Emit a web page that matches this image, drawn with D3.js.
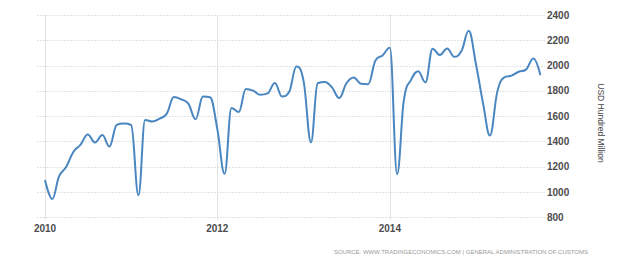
<!DOCTYPE html>
<html><head><meta charset="utf-8">
<script src="https://cdn.jsdelivr.net/npm/d3@7"></script>
<style>
html,body{margin:0;padding:0;background:#fff;}
svg{display:block;}
</style></head>
<body>
<svg id="chart" width="625" height="265"></svg>
<script>
// Monthly values, Jan 2010 .. Oct 2015 (USD Hundred Million)
const startYear = 2010;
const values = [
  1095, 945, 1121, 1199, 1317, 1375, 1455, 1392, 1450, 1360, 1531, 1541,
  1530, 974, 1570, 1557, 1580, 1620, 1751, 1733, 1697, 1575, 1755, 1750,
  1499, 1144, 1665, 1633, 1815, 1802, 1769, 1780, 1863, 1755, 1794, 1992,
  1873, 1393, 1860, 1871, 1827, 1743, 1860, 1906, 1856, 1853, 2040, 2080,
  2140, 1141, 1720, 1887, 1955, 1868, 2133, 2084, 2136, 2069, 2117, 2275,
  2010, 1690, 1446, 1790, 1907, 1921, 1951, 1968, 2056, 1924
];
const yTicks = [800, 1000, 1200, 1400, 1600, 1800, 2000, 2200, 2400];
const xTickYears = [2010, 2012, 2014];
const yTitle = "USD Hundred Million";
const sourceText = "SOURCE: WWW.TRADINGECONOMICS.COM | GENERAL ADMINISTRATION OF CUSTOMS";

(function () {
const data = values.map((v, i) => ({ date: new Date(startYear, i, 1), value: v }));

const svg = d3.select("#chart");
const pLeft = 37, pRight = 545, pTop = 15, pBottom = 217.3;

const x = d3.scaleTime()
  .domain([new Date(2010, 0, 1), new Date(2012, 0, 1)])
  .range([45, 217.3]);
const y = d3.scaleLinear().domain([800, 2400]).range([pBottom, pTop]);

// Highcharts-like spline curve
function HCSpline(context) { this._context = context; }
HCSpline.prototype = {
  areaStart() {}, areaEnd() {},
  lineStart() { this._pts = []; },
  point(px, py) { this._pts.push([+px, +py]); },
  lineEnd() {
    const p = this._pts, ctx = this._context, n = p.length;
    if (!n) return;
    const sm = 1.5, den = sm + 1;
    const L = [], R = [];
    for (let i = 0; i < n; i++) {
      const [cx, cy] = p[i];
      if (i === 0 || i === n - 1) { L[i] = [cx, cy]; R[i] = [cx, cy]; continue; }
      const [lx, ly] = p[i - 1], [nx, ny] = p[i + 1];
      let lcx = (sm * cx + lx) / den, lcy = (sm * cy + ly) / den;
      let rcx = (sm * cx + nx) / den, rcy = (sm * cy + ny) / den;
      const corr = ((rcy - lcy) * (rcx - cx)) / (rcx - lcx) + cy - rcy;
      lcy += corr; rcy += corr;
      if (lcy > ly && lcy > cy) { lcy = Math.max(ly, cy); rcy = 2 * cy - lcy; }
      else if (lcy < ly && lcy < cy) { lcy = Math.min(ly, cy); rcy = 2 * cy - lcy; }
      if (rcy > ny && rcy > cy) { rcy = Math.max(ny, cy); lcy = 2 * cy - rcy; }
      else if (rcy < ny && rcy < cy) { rcy = Math.min(ny, cy); lcy = 2 * cy - rcy; }
      L[i] = [lcx, lcy]; R[i] = [rcx, rcy];
    }
    ctx.moveTo(p[0][0], p[0][1]);
    for (let i = 1; i < n; i++) {
      ctx.bezierCurveTo(R[i - 1][0], R[i - 1][1], L[i][0], L[i][1], p[i][0], p[i][1]);
    }
  }
};
const curveHC = ctx => new HCSpline(ctx);

// horizontal grid
svg.append("g").selectAll("line").data(yTicks).join("line")
  .attr("x1", pLeft).attr("x2", pRight)
  .attr("y1", d => Math.round(y(d)) + 0.5).attr("y2", d => Math.round(y(d)) + 0.5)
  .attr("stroke", "#e3e3e3").attr("stroke-width", 1).attr("stroke-dasharray", "2,1");

// vertical grid
svg.append("g").selectAll("line").data(xTickYears).join("line")
  .attr("x1", d => Math.round(x(new Date(d, 0, 1))) + 0.5)
  .attr("x2", d => Math.round(x(new Date(d, 0, 1))) + 0.5)
  .attr("y1", pTop).attr("y2", pBottom + 3)
  .attr("stroke", "#e3e3e3").attr("stroke-width", 1);

// line
svg.append("path").datum(data)
  .attr("fill", "none")
  .attr("stroke", "#4a86c0")
  .attr("stroke-width", 2)
  .attr("stroke-linejoin", "round")
  .attr("d", d3.line().x(d => x(d.date)).y(d => y(d.value)).curve(curveHC));

// y labels
svg.append("g").selectAll("text").data(yTicks).join("text")
  .attr("x", 547).attr("y", d => y(d) + 3.5)
  .attr("font-family", "Liberation Sans, Arial, sans-serif")
  .attr("font-size", 10).attr("font-weight", "bold")
  .attr("fill", "#4d4d4d")
  .text(d => d);

// x labels
svg.append("g").selectAll("text").data(xTickYears).join("text")
  .attr("x", d => x(new Date(d, 0, 1)))
  .attr("y", 232)
  .attr("text-anchor", "middle")
  .attr("font-family", "Liberation Sans, Arial, sans-serif")
  .attr("font-size", 10).attr("font-weight", "bold")
  .attr("fill", "#4d4d4d")
  .text(d => d);

// y axis title
svg.append("text")
  .attr("transform", "translate(598,123) rotate(90)")
  .attr("text-anchor", "middle")
  .attr("font-family", "Liberation Sans, Arial, sans-serif")
  .attr("font-size", 8.5)
  .attr("fill", "#444")
  .text(yTitle);

// source
svg.append("text")
  .attr("x", 588).attr("y", 254)
  .attr("text-anchor", "end")
  .attr("font-family", "Liberation Sans, Arial, sans-serif")
  .attr("font-size", 6)
  .attr("fill", "#999")
  .text(sourceText);
})();
</script>
</body></html>
